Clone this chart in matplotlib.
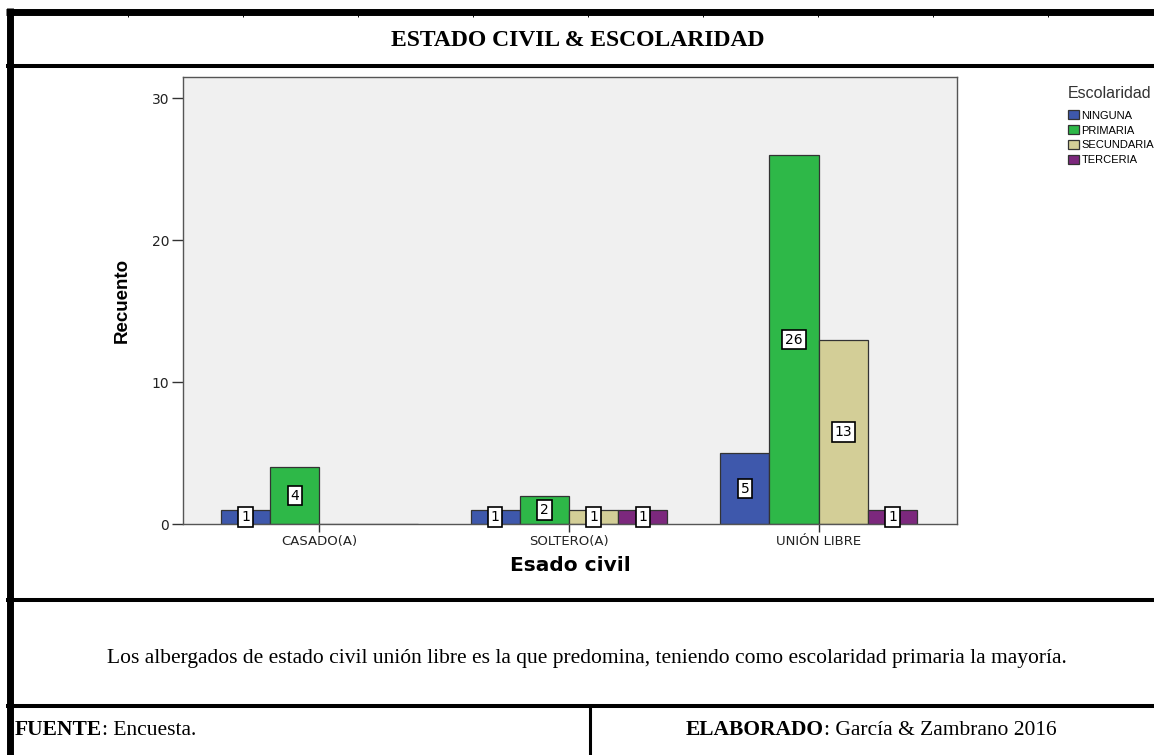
import matplotlib.pyplot as plt
from matplotlib.lines import Line2D
import numpy as np

# datos
categorias = ["CASADO(A)", "SOLTERO(A)", "UNIÓN LIBRE"]
niveles = ["NINGUNA", "PRIMARIA", "SECUNDARIA", "TERCERIA"]
ninguna = [1, 1, 5]
primaria = [4, 2, 26]
secundaria = [0, 1, 13]
terceria = [0, 1, 1]
colores = ["#3E58AC", "#2EB848", "#D3CE97", "#7C287D"]
yticks = [0, 10, 20, 30]

W, H = 1154, 755
fig = plt.figure(figsize=(W / 100, H / 100), dpi=100)

# ejes en pixeles de la imagen
ax = fig.add_axes([183 / W, 1 - 524 / H, (957 - 183) / W, (524 - 77) / H])
ax.set_facecolor("#F0F0F0")

x = np.arange(len(categorias))
ancho = 0.197
series = [ninguna, primaria, secundaria, terceria]
for i, (vals, col, nom) in enumerate(zip(series, colores, niveles)):
    pos = x + (i - 1.5) * ancho
    barras = ax.bar(pos, vals, ancho, color=col, edgecolor="#333333", linewidth=0.9, label=nom)
    etiquetas = [str(v) if v > 0 else "" for v in vals]
    ax.bar_label(barras, labels=etiquetas, label_type="center", fontsize=10,
                 family="DejaVu Sans",
                 bbox=dict(boxstyle="square,pad=0.2", fc="white", ec="black", lw=1.2))

ax.set_xlim(-0.546, 2.554)
ax.set_ylim(0, 31.5)
ax.set_yticks(yticks)
ax.set_yticklabels([str(t) for t in yticks], fontsize=10, color="#222222", family="DejaVu Sans")
ax.set_xticks(x)
ax.set_xticklabels(categorias, fontsize=9.5, color="#222222", family="DejaVu Sans")
ax.tick_params(axis="y", length=8, width=1, color="#333333", pad=2)
ax.tick_params(axis="x", length=6, width=1, color="#333333", pad=2)
for s in ax.spines.values():
    s.set_color("#555555")
    s.set_linewidth(1)

ax.set_xlabel("Esado civil", fontsize=14.5, fontweight="bold", family="DejaVu Sans", labelpad=6)
ax.set_ylabel("Recuento", fontsize=13.5, fontweight="bold",
              family=["Liberation Sans Narrow", "Liberation Sans"], labelpad=15)

leg = ax.legend(loc="upper left", bbox_to_anchor=(1062 / W, 1 - 80 / H),
                bbox_transform=fig.transFigure, frameon=False, title="Escolaridad",
                title_fontsize=11.5, handlelength=1.05, handleheight=0.85,
                handletextpad=0.2, labelspacing=0.42, borderpad=0, alignment="left",
                prop={"family": "Liberation Sans", "size": 8})
leg.get_title().set_color("#333333")
leg.get_title().set_family("Liberation Sans")
leg._legend_box.sep = 7

# marco tipo tabla
def linea_h(y, x0, x1, lw):
    fig.add_artist(Line2D([x0 / W, x1 / W], [1 - y / H, 1 - y / H], color="black", lw=lw,
                          solid_capstyle="butt"))

def linea_v(xp, y0, y1, lw):
    fig.add_artist(Line2D([xp / W, xp / W], [1 - y0 / H, 1 - y1 / H], color="black", lw=lw,
                          solid_capstyle="butt"))

linea_h(11.5, 6, W, 5)
linea_v(9.5, 8, H, 5)
linea_h(66, 6, W, 2.9)
linea_h(599.5, 6, W, 2.9)
linea_h(705.5, 6, W, 2.9)
linea_v(590, 705, H, 2.2)
for k in range(9):
    linea_v(128 + 115 * k, 14, 17, 0.7)

serif = "Liberation Serif"
fig.text(578 / W, 1 - 40 / H, "ESTADO CIVIL & ESCOLARIDAD", ha="center", va="center",
         fontsize=17, fontweight="bold", family=serif)
fig.text(587 / W, 1 - 658 / H,
         "Los albergados de estado civil unión libre es la que predomina, teniendo como escolaridad primaria la mayoría.",
         ha="center", va="center", fontsize=15.5, family=serif)

t1 = fig.text(15 / W, 1 - 730 / H, "FUENTE", ha="left", va="center", fontsize=15.5,
              fontweight="bold", family=serif)
ax.annotate(": Encuesta.", xy=(1, 0), xycoords=t1, ha="left", va="bottom",
            fontsize=15.5, family=serif, annotation_clip=False)
t2 = fig.text(686 / W, 1 - 730 / H, "ELABORADO", ha="left", va="center", fontsize=15.5,
              fontweight="bold", family=serif)
ax.annotate(": García & Zambrano 2016", xy=(1, 0), xycoords=t2, ha="left", va="bottom",
            fontsize=15.5, family=serif, annotation_clip=False)

fig.savefig("out.png", dpi=100)
